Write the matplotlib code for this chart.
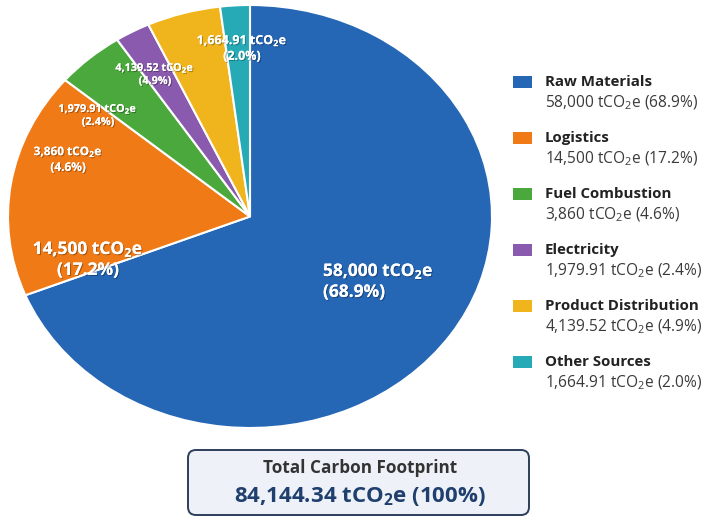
import matplotlib
matplotlib.use("Agg")
import matplotlib.pyplot as plt
import matplotlib.patheffects as pe
from matplotlib.patches import Rectangle, FancyBboxPatch

plt.rcParams['font.family'] = ['Open Sans', 'DejaVu Sans']
plt.rcParams['mathtext.fontset'] = 'custom'
plt.rcParams['mathtext.rm'] = 'Open Sans'
plt.rcParams['mathtext.it'] = 'Open Sans'
plt.rcParams['mathtext.bf'] = 'Open Sans:bold'

# data
sources = ["Raw Materials", "Logistics", "Fuel Combustion", "Electricity",
           "Product Distribution", "Other Sources"]
emissions = [58000, 14500, 3860, 1979.91, 4139.52, 1664.91]
colors = ["#2566b5", "#f07a16", "#4aa83c", "#8a5aae", "#f0b51c", "#26aab5"]

total = sum(emissions)
pcts = [v / total * 100 for v in emissions]


def fmt(v):
    if float(v).is_integer():
        return f"{v:,.0f}"
    return f"{v:,.2f}"


W, H = 708, 518
fig = plt.figure(figsize=(W / 100, H / 100), dpi=100)

# pie axes (image is slightly stretched horizontally)
ax = fig.add_axes([8 / W, 90 / H, 484 / W, 423 / H])
wedges, _ = ax.pie(emissions, colors=colors, startangle=90, counterclock=False,
                   wedgeprops=dict(edgecolor="white", linewidth=1.5))
ax.set_aspect('auto')
ax.set_xlim(-1, 1)
ax.set_ylim(-1, 1)

shadow = [pe.withSimplePatchShadow(offset=(0.8, -0.8), shadow_rgbFace='black', alpha=0.3),
          pe.Normal()]

# label layout: (x px, y px, fontsize, ha)
label_pos = [(323, 281, 12.5, 'left'),
             (88, 259, 12.5, 'center'),
             (68, 159, 8.5, 'center'),
             (98, 115, 7.8, 'center'),
             (155, 74, 7.8, 'center'),
             (242, 48, 9, 'center')]

for v, p, (x, y, fs, ha) in zip(emissions, pcts, label_pos):
    txt = fmt(v) + r" tCO$_\mathbf{2}$e" + "\n" + f"({p:.1f}%)"
    fig.text(x / W, 1 - y / H, txt, ha=ha, va='center',
             fontsize=fs, fontweight='bold', color='white', linespacing=1.15,
             multialignment=ha, path_effects=shadow)

# legend
for i, (name, v, p, c) in enumerate(zip(sources, emissions, pcts, colors)):
    yc = 82 + i * 56
    fig.patches.append(Rectangle((513 / W, 1 - (yc + 6) / H), 19 / W, 12 / H,
                                 transform=fig.transFigure, facecolor=c,
                                 edgecolor='none', figure=fig))
    fig.text(545 / W, 1 - yc / H, name, ha='left', va='center', fontsize=10.8,
             fontweight='bold', color='#222222')
    fig.text(545 / W, 1 - (yc + 21) / H, fmt(v) + r" tCO$_2$e" + f" ({p:.1f}%)",
             ha='left', va='center', fontsize=11.2, color='#3a3a3a')

# total box
box = FancyBboxPatch((188 / 100, 3 / 100), 341 / 100, 65 / 100,
                     boxstyle="round,pad=0,rounding_size=0.08",
                     transform=fig.dpi_scale_trans, facecolor='#eef2f8',
                     edgecolor='#2c3e5a', linewidth=1.4, figure=fig)
fig.patches.append(box)
fig.text(360 / W, 1 - 468 / H, "Total Carbon Footprint", ha='center', va='center',
         fontsize=12.3, fontweight='bold', color='#333333')
fig.text(360 / W, 1 - 497 / H, fmt(round(total, 2)) + r" tCO$_\mathbf{2}$e (100%)",
         ha='center', va='center', fontsize=16, fontweight='bold', color='#1f3f6e')

fig.savefig("out.png", dpi=100, facecolor='white')
